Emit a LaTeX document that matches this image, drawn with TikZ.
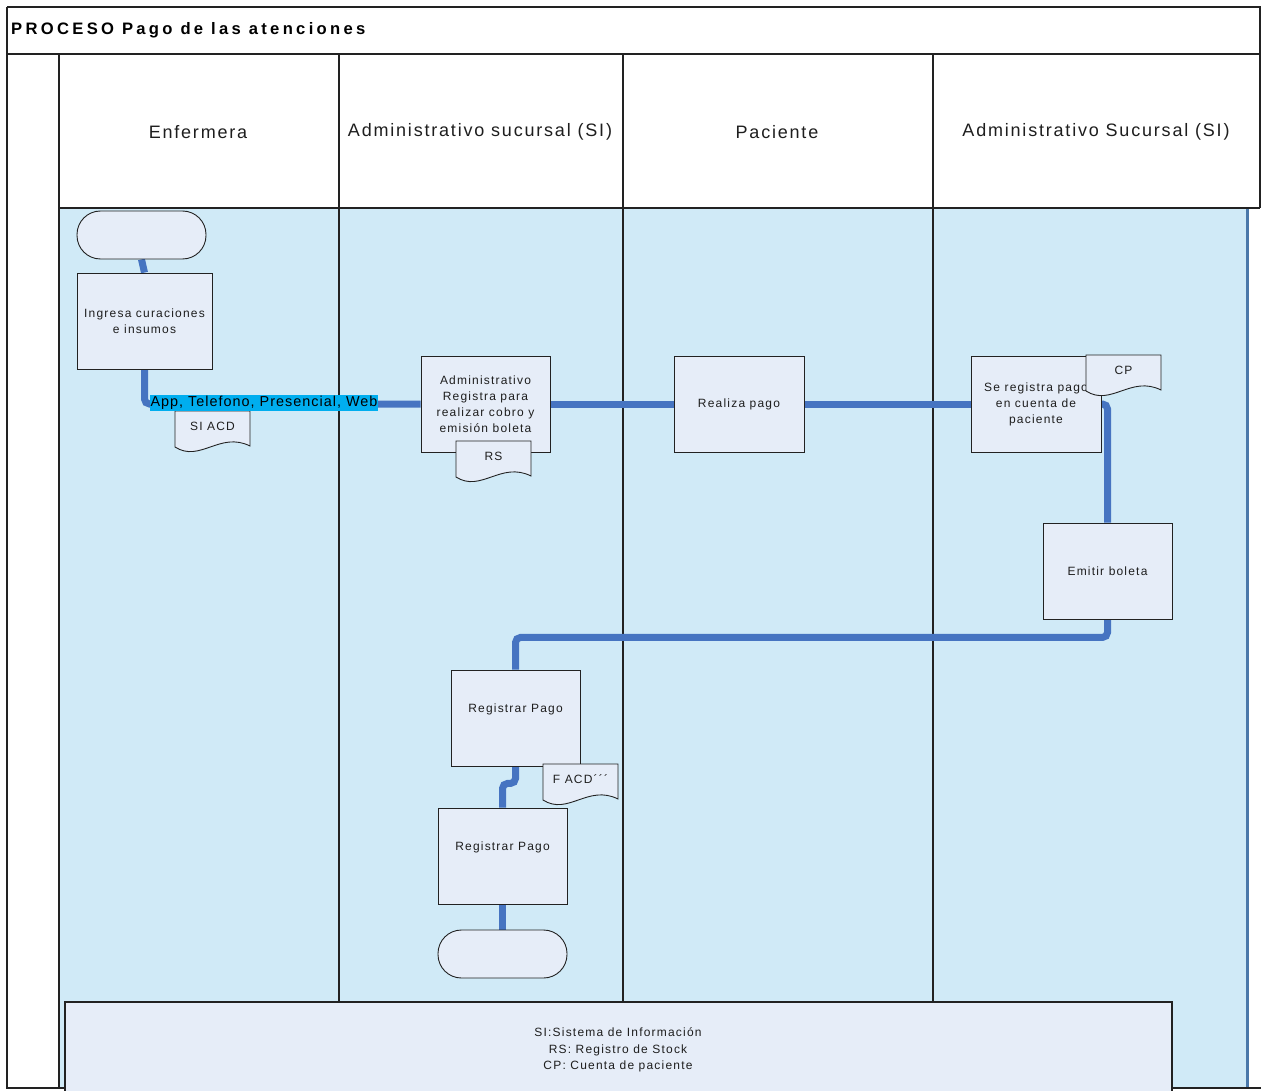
\documentclass[tikz,border=0pt]{standalone}
\usepackage{fontspec}
\setmainfont{Liberation Sans}
\newfontfamily\lsA[LetterSpace=10]{Liberation Sans}
\newfontfamily\lsT[LetterSpace=20]{Liberation Sans}
\newfontfamily\lsL[LetterSpace=7]{Liberation Sans}
\definecolor{lanefill}{RGB}{208,234,247}
\definecolor{boxfill}{RGB}{230,237,248}
\definecolor{connblue}{RGB}{70,116,193}
\definecolor{edgeblue}{RGB}{74,120,170}
\definecolor{hilite}{RGB}{0,174,239}
\definecolor{frame}{RGB}{34,34,34}
\definecolor{txt}{RGB}{30,30,30}
\pgfdeclarelayer{lanes}
\pgfdeclarelayer{conns}
\pgfsetlayers{lanes,conns,main}
\tikzset{
  frameline/.style={draw=frame, line width=1.6pt},
  box/.style={draw=frame, fill=boxfill, line width=0.9pt, minimum width=129pt, minimum height=96pt,
    inner sep=2pt, font=\lsA\fontsize{12}{16}\selectfont, text=txt, align=center},
  term/.style={draw=frame, fill=boxfill, line width=0.9pt, rounded corners=23.5pt,
    minimum width=129pt, minimum height=48pt},
  conn/.style={draw=connblue, line width=7pt, rounded corners=5pt},
  docshape/.style={draw=frame, fill=boxfill, line width=0.9pt},
  doctext/.style={font=\lsA\fontsize{12}{14}\selectfont, text=txt, inner sep=0pt},
  hdr/.style={font=\lsA\fontsize{18}{20}\selectfont, text=txt},
  chlabel/.style={fill=hilite, font=\lsL\fontsize{14.4}{16}\selectfont, text=black, inner xsep=1pt, inner ysep=1.5pt},
}
\newcommand{\docnode}[4]{%
  \begin{scope}[shift={(#2,#3)}]
    \filldraw[docshape] (0,0) -- (75,0) -- (75,35) .. controls (45,20) and (25,52) .. (0,36) -- cycle;
    \node[doctext] (#1) at (37.5,15) {#4};
  \end{scope}}
\begin{document}
\begin{tikzpicture}[x=1pt,y=-1pt]
\useasboundingbox (0,0) rectangle (1261,1091);
\clip (0,0) rectangle (1261,1091);
\begin{pgfonlayer}{lanes}
  \fill[white] (0,0) rectangle (1261,1091);
  \fill[lanefill] (59,208) rectangle (1248,1088);
  \draw[edgeblue, line width=2.2pt] (1247.5,208) -- (1247.5,1088);
  \draw[frameline] (7,7) -- (1260,7) -- (1260,208);
  \draw[frameline] (7,7) -- (7,1088) -- (1261,1088);
  \draw[frameline] (7,54) -- (1260,54);
  \draw[frameline] (59,208) -- (1260,208);
  \draw[frameline] (59,54) -- (59,1088);
  \draw[frameline] (339,54) -- (339,1002);
  \draw[frameline] (623,54) -- (623,1002);
  \draw[frameline] (933,54) -- (933,1002);
\end{pgfonlayer}
% title and headers
\node[anchor=west, font=\lsT\bfseries\fontsize{16.6}{18}\selectfont, text=black, inner sep=0pt] (title) at (11,30) {PROCESO Pago de las atenciones};
\node[hdr] (h1) at (198,132) {Enfermera};
\node[hdr] (h2) at (480,132) {Administrativo sucursal (SI)};
\node[hdr] (h3) at (777,132) {Paciente};
\node[hdr] (h4) at (1096,132) {Administrativo Sucursal (SI)};
% flow nodes
\node[term] (start) at (141.5,235) {};
\node[box, minimum width=135pt] (ing) at (144.5,321) {Ingresa curaciones\\e insumos};
\node[box] (admin) at (485.5,404) {Administrativo\\Registra para\\realizar cobro y\\emisión boleta};
\node[box, minimum width=130pt] (realiza) at (739,404) {Realiza pago};
\node[box, minimum width=130pt] (sereg) at (1036,404) {Se registra pago\\en cuenta de\\paciente};
\node[box] (emitir) at (1107.5,571) {Emitir boleta};
\node[box, label={[font=\lsA\fontsize{12}{16}\selectfont, text=txt, yshift=9pt]center:Registrar Pago}] (rp1) at (515.5,718) {};
\node[box, label={[font=\lsA\fontsize{12}{16}\selectfont, text=txt, yshift=9pt]center:Registrar Pago}] (rp2) at (502.5,856) {};
\node[term] (end) at (502.5,954) {};
% documents
\docnode{siacd}{175}{411}{SI ACD}
\docnode{rs}{456}{441}{RS}
\docnode{cp}{1086}{355}{CP}
\docnode{facd}{543}{764}{F ACD´´´}
% connectors
\begin{pgfonlayer}{conns}
  \draw[conn] (start.south) -- (ing.north);
  \draw[conn] (ing.south) |- (admin.west);
  \draw[conn] (admin.east) -- (realiza.west);
  \draw[conn] (realiza.east) -- (sereg.west);
  \draw[conn] (sereg.east) -| (emitir.north);
  \draw[conn] (emitir.south) -- ++(0,18) -| (rp1.north);
  \draw[conn] (rp1.south) -- ++(0,17) -| (rp2.north);
  \draw[conn] (rp2.south) -- (end.north);
\end{pgfonlayer}
\node[chlabel] (chan) at (264,403) {App, Telefono, Presencial, Web};
% legend
\draw[draw=frame, fill=boxfill, line width=1.2pt] (65,1002) rectangle (1172,1100);
\node[font=\lsA\fontsize{12}{16.5}\selectfont, text=txt, align=center] (legend) at (618,1050)
  {SI:Sistema de Información\\RS: Registro de Stock\\CP: Cuenta de paciente};
\end{tikzpicture}
\end{document}
